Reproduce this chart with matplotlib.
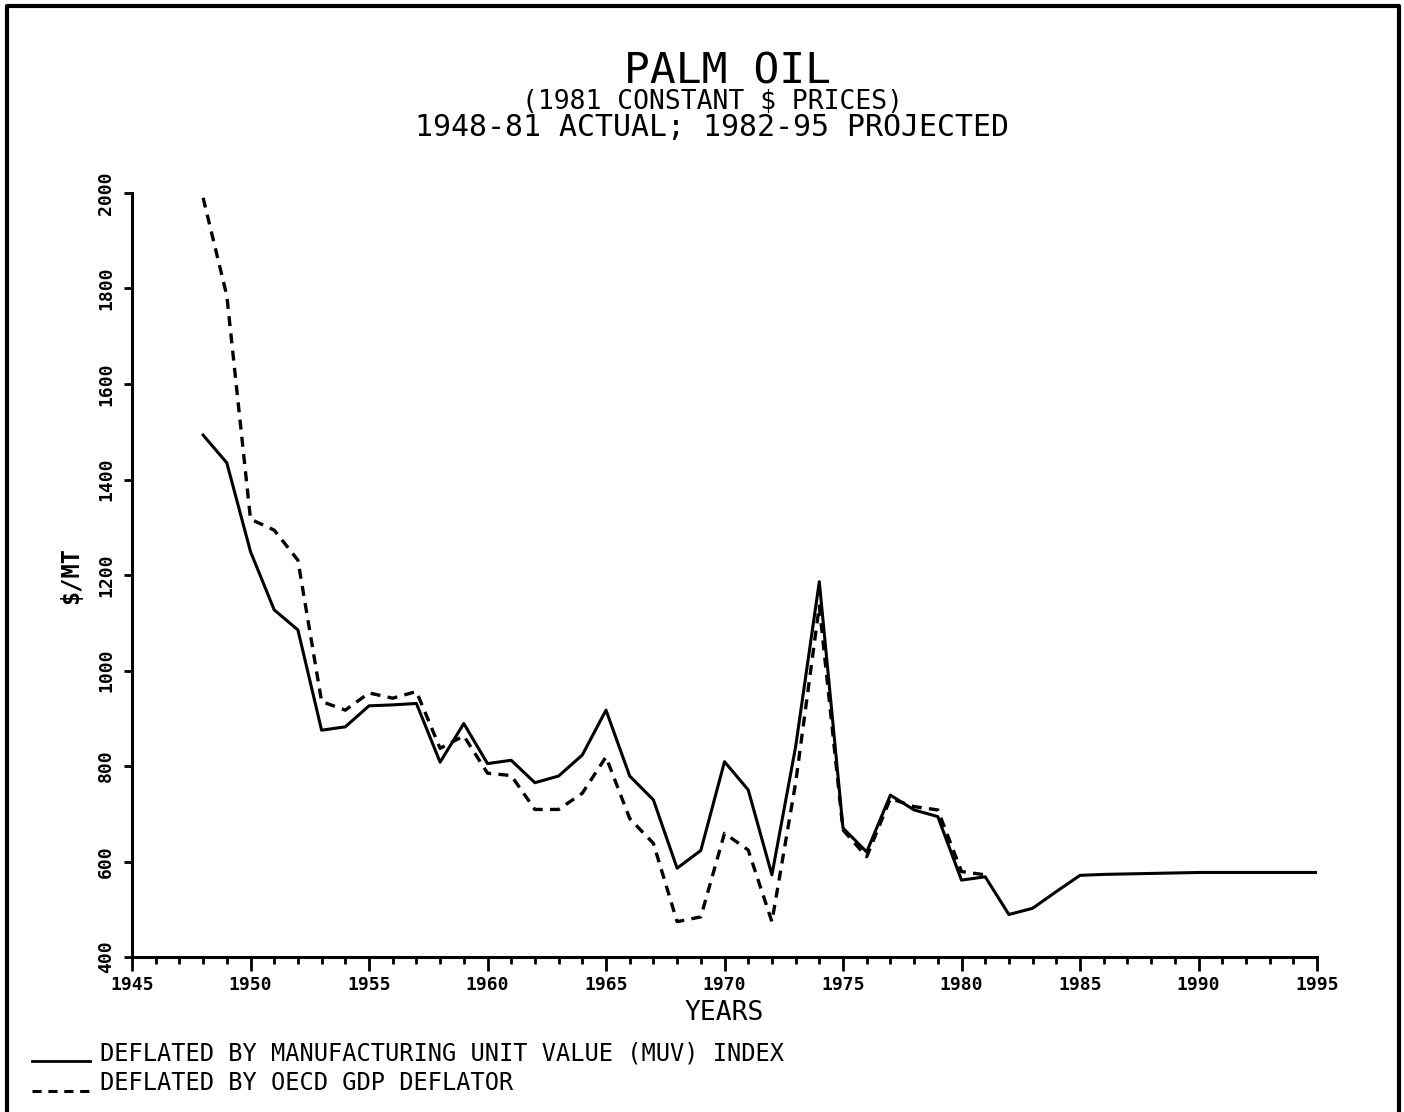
import matplotlib
matplotlib.use("Agg")
import matplotlib.pyplot as plt
from matplotlib.lines import Line2D

plt.rcParams["font.family"] = ["DejaVu Sans Mono"]

# Palm oil prices, 1981 constant $ per metric ton
years_muv = list(range(1948, 1996))
muv = [1493, 1435, 1249, 1127, 1085, 875, 882, 926, 928, 931,
       808, 889, 805, 812, 765, 779, 823, 917, 779, 729,
       586, 623, 809, 750, 572, 840, 1186, 670, 620, 739,
       708, 694, 561, 568, 489, 502, 537, 571, 573, 574,
       575, 576, 577, 577, 577, 577, 577, 577]

years_oecd = list(range(1948, 1982))
oecd = [1990, 1785, 1317, 1294, 1231, 935, 917, 953, 942, 956,
        837, 863, 785, 780, 709, 709, 743, 819, 690, 638,
        474, 484, 659, 624, 474, 764, 1135, 666, 610, 732,
        715, 708, 579, 572]

x_major = list(range(1945, 2000, 5))
x_minor = list(range(1945, 1996))
y_major = list(range(400, 2001, 200))

W, H = 1404, 1112
fig = plt.figure(figsize=(W / 100, H / 100), dpi=100)
ax = fig.add_axes([132 / W, 1 - 957 / H, (1317 - 132) / W, (957 - 193) / H])

ax.plot(years_muv, muv, color="black", linewidth=2.2)
ax.plot(years_oecd, oecd, color="black", linewidth=2.4, linestyle=(0, (3, 2.2)))

ax.set_xlim(1945, 1995)
ax.set_ylim(400, 2000)
ax.set_xticks(x_major)
ax.set_xticks(x_minor, minor=True)
ax.set_yticks(y_major)
ax.set_xticklabels([str(v) for v in x_major], fontsize=13, fontweight="bold")
ax.set_yticklabels([str(v) for v in y_major], fontsize=13, fontweight="bold",
                   rotation=90, va="center")
ax.tick_params(axis="x", which="major", length=10, width=2, direction="out", pad=4)
ax.tick_params(axis="x", which="minor", length=5, width=2, direction="out")
ax.tick_params(axis="y", which="major", length=6, width=2, direction="out", pad=6)
for s in ["top", "right"]:
    ax.spines[s].set_visible(False)
for s in ["left", "bottom"]:
    ax.spines[s].set_linewidth(2.2)

ax.set_xlabel("YEARS", fontsize=19, labelpad=4)
ax.set_ylabel("$/MT", fontsize=17, fontweight="bold", labelpad=10)

# titles
fig.text(727 / W, 1 - 72 / H, "PALM OIL", fontsize=31, ha="center", va="center")
fig.text(713 / W, 1 - 102 / H, "(1981 CONSTANT $ PRICES)", fontsize=19, ha="center", va="center")
fig.text(712 / W, 1 - 128 / H, "1948-81 ACTUAL; 1982-95 PROJECTED", fontsize=21.5,
         ha="center", va="center")

# legend drawn below the plot
fig.add_artist(Line2D([32 / W, 90 / W], [1 - 1061 / H, 1 - 1061 / H],
                      color="black", linewidth=2))
fig.add_artist(Line2D([32 / W, 94 / W], [1 - 1091 / H, 1 - 1091 / H],
                      color="black", linewidth=2.2, linestyle=(0, (3, 2.2))))
fig.text(100 / W, 1 - 1053 / H, "DEFLATED BY MANUFACTURING UNIT VALUE (MUV) INDEX",
         fontsize=17, ha="left", va="center")
fig.text(100 / W, 1 - 1083 / H, "DEFLATED BY OECD GDP DEFLATOR",
         fontsize=17, ha="left", va="center")

# outer frame (left, top, right)
fig.add_artist(Line2D([7 / W, 7 / W, 1399 / W, 1399 / W],
                      [0, 1 - 6 / H, 1 - 6 / H, 0], color="black", linewidth=3))

fig.savefig("out.png", dpi=100)
